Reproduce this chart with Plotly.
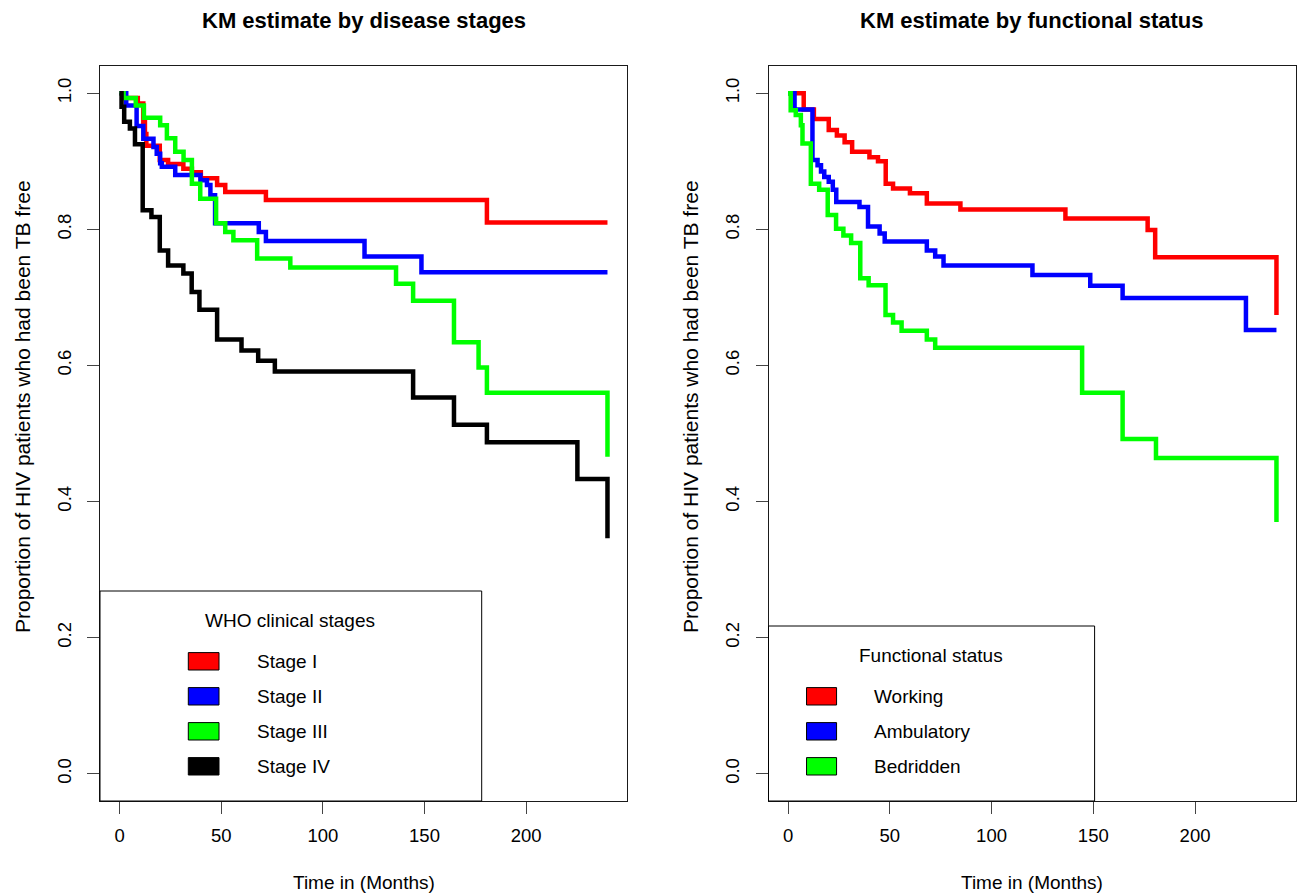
import plotly.graph_objects as go

# ---------------- data ----------------
# Left panel: KM by WHO clinical stage
stage1_t = [0, 3, 9, 11.7, 12.5, 13.2, 19.8, 23.9, 31.4, 35.6, 40, 48, 52, 72, 180.7, 240]
stage1_s = [1.0, 0.993, 0.985, 0.958, 0.940, 0.923, 0.902, 0.896, 0.889, 0.884, 0.875, 0.865, 0.855, 0.843, 0.810, 0.810]

stage2_t = [0, 3.3, 8.4, 11.7, 16.7, 18.3, 20, 20.8, 27.4, 39.8, 43, 44.7, 47, 68.5, 72, 120.5, 148.5, 240]
stage2_s = [1.0, 0.982, 0.952, 0.933, 0.921, 0.911, 0.897, 0.892, 0.880, 0.872, 0.865, 0.850, 0.809, 0.796, 0.783, 0.760, 0.737, 0.737]

stage3_t = [0, 2, 8, 12, 20, 23.3, 27.4, 31.5, 35.6, 39.7, 47.5, 52, 56, 67.7, 84, 136, 144.4, 164.5, 176.6, 180.7, 240]
stage3_s = [1.0, 0.993, 0.982, 0.964, 0.953, 0.934, 0.914, 0.902, 0.867, 0.845, 0.809, 0.796, 0.784, 0.757, 0.744, 0.720, 0.695, 0.634, 0.597, 0.560, 0.466]

stage4_t = [0, 1, 2.3, 5.1, 7.6, 11.4, 15.7, 19.8, 23.9, 31.4, 35.5, 39.3, 48, 60, 68.2, 76.4, 144.4, 164.5, 180.7, 225.2, 240]
stage4_s = [1.0, 0.980, 0.958, 0.948, 0.925, 0.828, 0.818, 0.769, 0.747, 0.735, 0.708, 0.682, 0.638, 0.622, 0.607, 0.591, 0.553, 0.513, 0.487, 0.433, 0.346]

# Right panel: KM by functional status
work_t = [0, 7.7, 12.7, 20, 24, 27.8, 31.5, 40, 44.2, 48, 51.6, 59.9, 68.2, 84.7, 136.3, 176.7, 180.4, 240]
work_s = [1.0, 0.976, 0.962, 0.946, 0.938, 0.928, 0.914, 0.906, 0.900, 0.867, 0.860, 0.853, 0.838, 0.829, 0.816, 0.799, 0.759, 0.674]

amb_t = [0, 3.2, 12, 14.5, 16.2, 17.8, 20, 22, 23.7, 35.1, 39.3, 45, 47.5, 68.2, 72.3, 76.4, 120.1, 148.5, 164.4, 225, 240]
amb_s = [1.0, 0.976, 0.902, 0.894, 0.885, 0.877, 0.870, 0.858, 0.840, 0.833, 0.804, 0.794, 0.782, 0.769, 0.760, 0.747, 0.733, 0.717, 0.699, 0.652, 0.652]

bed_t = [0, 1.3, 3.8, 6.3, 7.1, 11.2, 15.3, 19.5, 23.6, 27.2, 31, 35.5, 39.6, 47.9, 51.6, 55.8, 68.2, 72.3, 144.5, 164.4, 180.8, 240]
bed_s = [1.0, 0.975, 0.968, 0.953, 0.926, 0.867, 0.858, 0.821, 0.801, 0.791, 0.780, 0.728, 0.718, 0.674, 0.663, 0.651, 0.638, 0.626, 0.560, 0.492, 0.464, 0.370]

x_ticks = [0, 50, 100, 150, 200]
y_ticks = [0.0, 0.2, 0.4, 0.6, 0.8, 1.0]
y_ticklabels = ["0.0", "0.2", "0.4", "0.6", "0.8", "1.0"]

left_names = ["Stage I", "Stage II", "Stage III", "Stage IV"]
right_names = ["Working", "Ambulatory", "Bedridden"]
left_colors = ["#ff0000", "#0000ff", "#00ff00", "#000000"]
right_colors = ["#ff0000", "#0000ff", "#00ff00"]

titles = ["KM estimate by disease stages", "KM estimate by functional status"]
xlab = "Time in (Months)"
ylab = "Proportion of HIV patients who had been TB free"
legend_titles = ["WHO clinical stages", "Functional status"]

# ---------------- figure ----------------
FONT = "Liberation Sans, Arial, Helvetica, sans-serif"
LW = 4.5

fig = go.Figure()
left_series = [(stage1_t, stage1_s), (stage2_t, stage2_s), (stage3_t, stage3_s), (stage4_t, stage4_s)]
for (t, s), c, n in zip(left_series, left_colors, left_names):
    fig.add_trace(go.Scatter(x=t, y=s, mode="lines", line=dict(color=c, width=LW, shape="hv"),
                             name=n, xaxis="x", yaxis="y", showlegend=False))
right_series = [(work_t, work_s), (amb_t, amb_s), (bed_t, bed_s)]
for (t, s), c, n in zip(right_series, right_colors, right_names):
    fig.add_trace(go.Scatter(x=t, y=s, mode="lines", line=dict(color=c, width=LW, shape="hv"),
                             name=n, xaxis="x2", yaxis="y2", showlegend=False))

W, H = 1298, 893
ML, MR, MT, MB = 100, 2, 66, 92
PW = W - ML - MR
PH = H - MT - MB

def px2paperx(px):
    return (px - ML) / PW

def py2papery(py):
    return (H - MB - py) / PH

xdom_left = [0, px2paperx(627)]
xdom_right = [px2paperx(768.5), 1]

axis_common = dict(showline=True, mirror=True, linecolor="#1a1a1a", linewidth=1,
                   ticks="outside", ticklen=12, tickwidth=1.2, tickcolor="#444444",
                   showgrid=False, zeroline=False,
                   tickfont=dict(family=FONT, size=18.5, color="#000000"))

xr = [-9.6, 249.6]
yr = [-0.04, 1.04]
fig.update_layout(
    width=W, height=H,
    margin=dict(l=ML, r=MR, t=MT, b=MB),
    paper_bgcolor="white", plot_bgcolor="white",
    xaxis=dict(domain=xdom_left, range=xr, tickvals=x_ticks, anchor="y", ticklabelstandoff=6, **axis_common),
    yaxis=dict(domain=[0, 1], range=yr, tickvals=y_ticks, ticktext=y_ticklabels, tickangle=-90,
               anchor="x", ticklabelstandoff=9, **axis_common),
    xaxis2=dict(domain=xdom_right, range=xr, tickvals=x_ticks, anchor="y2", ticklabelstandoff=6, **axis_common),
    yaxis2=dict(domain=[0, 1], range=yr, tickvals=y_ticks, ticktext=y_ticklabels, tickangle=-90,
                anchor="x2", ticklabelstandoff=9, **axis_common),
)

annotations = []
shapes = []
# titles and axis labels
for i, (cx, ycx) in enumerate([(363.5, 22), (1032, 690)]):
    annotations.append(dict(text="<b>%s</b>" % titles[i], x=px2paperx(cx), y=py2papery(20.5), xref="paper", yref="paper",
                            xanchor="center", yanchor="middle", showarrow=False,
                            font=dict(family=FONT, size=22, color="#000000")))
    annotations.append(dict(text=xlab, x=px2paperx(cx), y=py2papery(882), xref="paper", yref="paper",
                            xanchor="center", yanchor="middle", showarrow=False,
                            font=dict(family=FONT, size=19, color="#000000")))
    annotations.append(dict(text=ylab, x=px2paperx(ycx), y=py2papery(407), xref="paper", yref="paper",
                            xanchor="center", yanchor="middle", showarrow=False, textangle=-90,
                            font=dict(family=FONT, size=21, color="#000000")))

# legends (drawn as boxes in axis-domain coordinates)
def legend(xref, yref, plot_left, box_right, box_top, title_text, title_c, rect_x, label_x, rows, names, colors):
    pw = 527.0
    dx = lambda px: (px - plot_left) / pw
    dy = lambda py: (801 - py) / PH
    shapes.append(dict(type="rect", xref=xref, yref=yref, x0=0, x1=dx(box_right), y0=0, y1=dy(box_top),
                       line=dict(color="#000000", width=1), fillcolor="white", layer="above"))
    annotations.append(dict(text=title_text, xref=xref, yref=yref, x=dx(title_c[0]), y=dy(title_c[1]),
                            xanchor="center", yanchor="middle", showarrow=False,
                            font=dict(family=FONT, size=19, color="#000000")))
    for r, n, c in zip(rows, names, colors):
        shapes.append(dict(type="rect", xref=xref, yref=yref, x0=dx(rect_x[0]), x1=dx(rect_x[1]),
                           y0=dy(r + 8.7), y1=dy(r - 8.7), line=dict(color="#000000", width=1),
                           fillcolor=c, layer="above"))
        annotations.append(dict(text=n, xref=xref, yref=yref, x=dx(label_x), y=dy(r),
                                xanchor="left", yanchor="middle", showarrow=False,
                                font=dict(family=FONT, size=19, color="#000000")))

legend("x domain", "y domain", 100, 481.7, 591, legend_titles[0], (290, 620), (188.3, 219), 255,
       [661.3, 696.3, 731.3, 766.3], left_names, left_colors)
legend("x2 domain", "y2 domain", 768.5, 1094.3, 626, legend_titles[1], (931.3, 655), (806.5, 836.5), 872,
       [696.3, 731.3, 766.3], right_names, right_colors)

fig.update_layout(annotations=annotations, shapes=shapes)

fig.write_html("out.html", config={"displayModeBar": False},
               post_script="document.body.style.margin='0';document.body.style.overflow='hidden';")
